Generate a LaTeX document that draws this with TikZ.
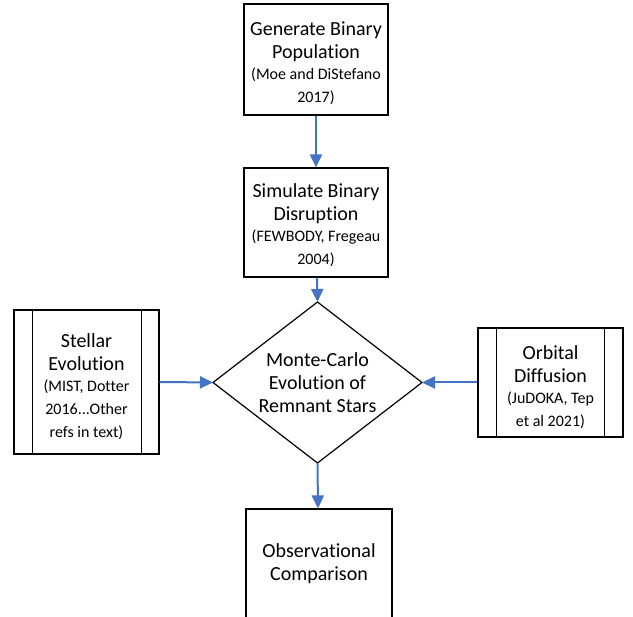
\documentclass[tikz,border=0pt]{standalone}
\usepackage{fontspec}
\setmainfont{Carlito}[Ligatures={NoCommon}]
\usetikzlibrary{arrows.meta}
\definecolor{arrowblue}{HTML}{4472C4}
\newcommand\mainsz{\fontsize{20}{23}\selectfont}
\newcommand\refsz{\fontsize{16}{19}\selectfont}
\begin{document}
\begin{tikzpicture}[x=1pt,y=-1pt,
  box/.style={draw=black,line width=1.2pt,rectangle,inner sep=0pt,align=center,font=\mainsz},
  txt/.style={inner sep=0pt,align=center,font=\mainsz},
  shape line/.style={draw=black,line width=1.2pt},
  flow/.style={draw=arrowblue,line width=2pt,-{Triangle[length=13pt,width=12pt]}},
]
\path[use as bounding box, clip] (0,0) rectangle (633,617);
\fill[white] (0,0) rectangle (633,617);

% top boxes
\node[box,minimum width=144pt,minimum height=111pt,
  label={[txt,yshift=-4pt]center:{Generate Binary\\Population\\[-2pt]\refsz (Moe and DiStefano\\\refsz 2017)}}]
  (gen) at (316,59.5) {};
\node[box,minimum width=144pt,minimum height=109pt,
  label={[txt,yshift=-3pt]center:{Simulate Binary\\Disruption\\[-2pt]\refsz (FEWBODY, Fregeau\\\refsz 2004)}}]
  (sim) at (316,222.5) {};

% diamond
\coordinate (mcT) at (317.5,302);
\coordinate (mcL) at (213,382.5);
\coordinate (mcR) at (422,382.5);
\coordinate (mcB) at (317.5,463);
\draw[shape line] (mcT) -- (mcR) -- (mcB) -- (mcL) -- cycle;
\node[txt] (mc) at (317.5,383) {Monte-Carlo\\Evolution of\\Remnant Stars};

% side boxes (predefined process)
\node[box,minimum width=145pt,minimum height=144pt,
  label={[txt,yshift=-5pt]center:{Stellar\\Evolution\\[-2pt]\refsz (MIST, Dotter\\\refsz 2016...Other\\\refsz refs in text)}}]
  (stel) at (86.5,382) {};
\draw[shape line] ([xshift=19pt]stel.north west) -- ([xshift=19pt]stel.south west);
\draw[shape line] ([xshift=-18pt]stel.north east) -- ([xshift=-18pt]stel.south east);

\node[box,minimum width=145pt,minimum height=109pt,
  label={[txt,yshift=-5pt]center:{Orbital\\Diffusion\\[-2pt]\refsz (JuDOKA, Tep\\\refsz et al 2021)}}]
  (orb) at (550.5,382.5) {};
\draw[shape line] ([xshift=19pt]orb.north west) -- ([xshift=19pt]orb.south west);
\draw[shape line] ([xshift=-19pt]orb.north east) -- ([xshift=-19pt]orb.south east);

% bottom box (runs off the page)
\node[box,minimum width=146pt,minimum height=141pt] (obs) at (319,579.5) {};
\node[txt] (obst) at (319,564) {Observational\\Comparison};

% connectors
\draw[flow] (gen.south) -- (sim.north);
\draw[flow] ([xshift=1pt]sim.south) -- (mcT);
\draw[flow] (stel.east) -- (mcL);
\draw[flow] (orb.west) -- (mcR);
\draw[flow] (mcB) -- ([xshift=-1pt]obs.north);
\end{tikzpicture}
\end{document}
